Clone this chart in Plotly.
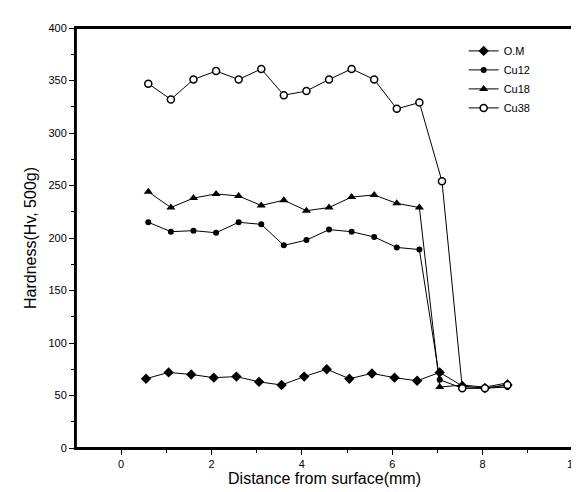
import plotly.graph_objects as go

distance = [0.6, 1.1, 1.6, 2.1, 2.6, 3.1, 3.6, 4.1, 4.6, 5.1, 5.6, 6.1, 6.6, 7.05, 7.55, 8.05, 8.55]
om_x = [0.55, 1.05, 1.55, 2.05, 2.55, 3.05, 3.55, 4.05, 4.55, 5.05, 5.55, 6.05, 6.55, 7.05, 7.55, 8.05, 8.55]
om = [66, 72, 70, 67, 68, 63, 60, 68, 75, 66, 71, 67, 64, 72, 59, 57, 60]
cu12 = [215, 206, 207, 205, 215, 213, 193, 198, 208, 206, 201, 191, 189, 65, 57, 57, 58]
cu18 = [244, 229, 238, 242, 240, 231, 236, 226, 229, 239, 241, 233, 229, 58, 60, 58, 62]
cu38_x = [0.6, 1.1, 1.6, 2.1, 2.6, 3.1, 3.6, 4.1, 4.6, 5.1, 5.6, 6.1, 6.6, 7.1, 7.55, 8.05, 8.55]
cu38 = [347, 332, 351, 359, 351, 361, 336, 340, 351, 361, 351, 323, 329, 254, 57, 57, 60]

FONT = "Liberation Sans, Arial, sans-serif"

fig = go.Figure()
series = [
    ("O.M", om_x, om, "diamond", "black", 8),
    ("Cu12", distance, cu12, "circle", "black", 6),
    ("Cu18", distance, cu18, "triangle-up", "black", 8),
    ("Cu38", cu38_x, cu38, "circle", "white", 7),
]
for name, xs, ys, sym, fill, sz in series:
    fig.add_trace(go.Scatter(
        x=xs, y=ys, name=name, mode="lines+markers",
        line=dict(color="black", width=1),
        marker=dict(symbol=sym, size=sz, color=fill,
                    line=dict(color="black", width=1.5 if fill == "white" else 0)),
    ))

axis_common = dict(
    showline=True, linecolor="black", linewidth=2, mirror=True,
    ticks="outside", ticklen=5, tickwidth=1.2, tickcolor="black",
    showgrid=False, zeroline=False,
    tickfont=dict(family=FONT, size=11, color="black"),
)

fig.update_layout(
    width=579, height=492,
    margin=dict(l=68, r=8, t=20, b=52),
    paper_bgcolor="white", plot_bgcolor="white",
    font=dict(family=FONT, color="black"),
    showlegend=True,
    legend=dict(x=0.78, y=0.98, xanchor="left", yanchor="top",
                bgcolor="rgba(0,0,0,0)", borderwidth=0,
                font=dict(family=FONT, size=11, color="black"),
                itemwidth=30, tracegroupgap=0),
    shapes=[dict(type="rect", xref="paper", yref="paper", x0=0, x1=1, y0=0, y1=1,
                 line=dict(color="black", width=1.8), layer="above")],
    xaxis=dict(range=[-1, 10], tickmode="array", tickvals=[0, 2, 4, 6, 8, 10],
               minor=dict(ticks="outside", ticklen=3, tickcolor="black", tickvals=[1, 3, 5, 7, 9]),
               title=dict(text="Distance from surface(mm)", font=dict(family=FONT, size=16), standoff=4),
               **axis_common),
    yaxis=dict(range=[0, 400], tickmode="array", tickvals=[0, 50, 100, 150, 200, 250, 300, 350, 400],
               minor=dict(ticks="outside", ticklen=3, tickcolor="black",
                          tickvals=[25, 75, 125, 175, 225, 275, 325, 375]),
               title=dict(text="Hardness(Hv, 500g)", font=dict(family=FONT, size=16), standoff=8),
               **axis_common),
)

fig.write_html("out.html")
